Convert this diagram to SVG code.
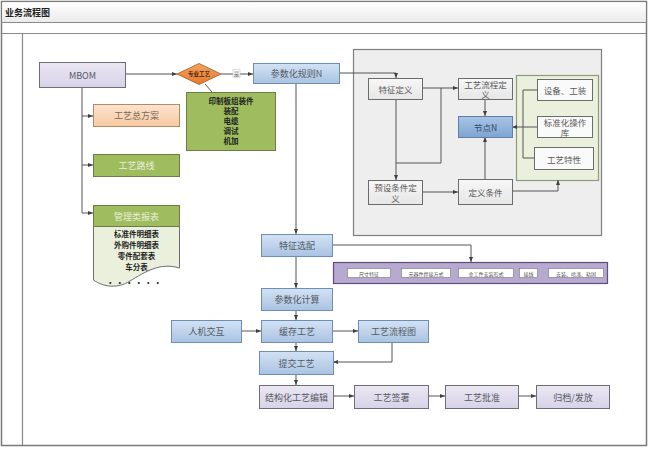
<svg xmlns="http://www.w3.org/2000/svg" width="650" height="450" viewBox="0 0 650 450">
<defs>
<linearGradient id="gBlue" x1="0" y1="0" x2="0" y2="1"><stop offset="0" stop-color="#d3e2f4"/><stop offset="1" stop-color="#a9c3e2"/></linearGradient>
<linearGradient id="gBlueD" x1="0" y1="0" x2="0" y2="1"><stop offset="0" stop-color="#a9c4e6"/><stop offset="1" stop-color="#7ea4d1"/></linearGradient>
<linearGradient id="gLav" x1="0" y1="0" x2="0" y2="1"><stop offset="0" stop-color="#ebe7f3"/><stop offset="1" stop-color="#d8d2e8"/></linearGradient>
<linearGradient id="gGrey" x1="0" y1="0" x2="0" y2="1"><stop offset="0" stop-color="#f7f7f7"/><stop offset="1" stop-color="#e6e6e6"/></linearGradient>
<linearGradient id="gTitle" x1="0" y1="0" x2="0" y2="1"><stop offset="0" stop-color="#ffffff"/><stop offset="1" stop-color="#eaeaea"/></linearGradient>
<linearGradient id="gPeach" x1="0" y1="0" x2="0" y2="1"><stop offset="0" stop-color="#fde3cd"/><stop offset="1" stop-color="#f8c9a2"/></linearGradient>
<linearGradient id="gOrange" x1="0" y1="0" x2="0" y2="1"><stop offset="0" stop-color="#f6a35c"/><stop offset="1" stop-color="#e9782a"/></linearGradient>
<marker id="arr" viewBox="0 0 10 10" refX="10" refY="5" markerWidth="5" markerHeight="5" orient="auto" markerUnits="userSpaceOnUse">
<path d="M0,1 L10,5 L0,9 z" fill="#404040"/>
</marker>
<style>
text{font-family:"Noto Sans CJK SC","Noto Sans",sans-serif;text-anchor:middle;dominant-baseline:central;}
.lbl{font-size:9px;fill:#555a63;}
.sm{font-size:8.5px;fill:#5a5a5a;}
.bold{font-size:7.5px;font-weight:bold;fill:#1e1e1e;}
.tiny{font-size:5px;fill:#555;}
.blue{fill:url(#gBlue);stroke:#6d8db5;stroke-width:1;}
.blueD{fill:url(#gBlueD);stroke:#5e7fa8;stroke-width:1;}
.lav{fill:url(#gLav);stroke:#6e6e7a;stroke-width:1;}
.grey{fill:url(#gGrey);stroke:#6b6b6b;stroke-width:1;}
.green{fill:#9fbc5f;stroke:#6b7d45;stroke-width:1;}
.peach{fill:url(#gPeach);stroke:#b08a6a;stroke-width:1;}
.conn path{fill:none;stroke:#555;stroke-width:1;}
.conn .a{marker-end:url(#arr);}
</style>
</defs>

<!-- frame -->
<g id="frame">
<rect x="1.5" y="1.5" width="645" height="444" fill="#ffffff" stroke="#7a7a7a" stroke-width="1.5"/>
<rect x="2.3" y="2.3" width="643.4" height="20" fill="url(#gTitle)"/>
<line x1="2" y1="22.5" x2="646" y2="22.5" stroke="#8a8a8a" stroke-width="1.2"/>
<line x1="2" y1="33.5" x2="646" y2="33.5" stroke="#8a8a8a" stroke-width="1.2"/>
<line x1="22.5" y1="33.5" x2="22.5" y2="445" stroke="#8a8a8a" stroke-width="1.2"/>
<text x="5" y="12.5" style="font-size:9px;font-weight:bold;fill:#222;text-anchor:start">业务流程图</text>
</g>

<!-- panels -->
<g id="panel-grey"><rect x="353.5" y="49.5" width="248" height="186" fill="#eeeeee" stroke="#7f7f7f" stroke-width="1.2"/></g>
<g id="panel-green"><rect x="516.5" y="75.5" width="82" height="105" fill="#eaf0dc" stroke="#8f9c78" stroke-width="1.2"/></g>

<!-- connectors -->
<g id="connectors" class="conn">
<path class="a" d="M126,74 H177"/>
<path class="a" d="M221,74 H253"/>
<path d="M205,84 L212,92"/>
<path d="M82,88 V213"/>
<path class="a" d="M82,116 H93"/>
<path class="a" d="M82,165 H93"/>
<path class="a" d="M82,213 H93"/>
<path class="a" d="M296,83 V234"/>
<path class="a" d="M339,73 H396 V78"/>
<path class="a" d="M422,88 H458"/>
<path class="a" d="M396,99 V180"/>
<path d="M396,163 H441 V88"/>
<path class="a" d="M485,99 V116"/>
<path class="a" d="M422,192 H458"/>
<path class="a" d="M485,179 V137"/>
<path class="a" d="M512,191 H558 V180"/>
<path d="M537,90 H523 V158 H534"/>
<path d="M537,127 H523"/>
<path class="a" d="M523,127 H512"/>
<path class="a" d="M332,245 H471 V262"/>
<path class="a" d="M296,256 V288"/>
<path class="a" d="M296,310 V320"/>
<path class="a" d="M241,331 H261"/>
<path class="a" d="M332,331 H358"/>
<path class="a" d="M296,342 V351"/>
<path class="a" d="M392,342 V362 H333"/>
<path class="a" d="M296,374 V385"/>
<path class="a" d="M333,396 H354"/>
<path class="a" d="M428,396 H445"/>
<path class="a" d="M518,396 H536"/>
<rect x="233" y="69.5" width="7" height="8" fill="#ffffff" stroke="#bbbbbb" stroke-width="0.5"/>
<text x="236.5" y="73.5" style="font-size:5.5px;fill:#666">是</text>
</g>

<!-- nodes -->
<g id="mbom"><rect class="lav" x="39.5" y="62.5" width="86" height="25"/><text class="lbl" x="82.5" y="75">MBOM</text></g>
<g id="decision"><polygon points="177,74 199,63.5 221,74 199,84.5" fill="url(#gOrange)" stroke="#9a5a2a" stroke-width="0.8"/><text x="199" y="74" style="font-size:5.5px;font-weight:bold;fill:#3a2a1a">专业工艺</text></g>
<g id="rule-n"><rect class="blue" x="253.5" y="63.5" width="86" height="20"/><text class="lbl" x="296.5" y="73.5">参数化规则N</text></g>
<g id="prof-list"><rect class="green" x="186.5" y="92.5" width="89" height="58"/>
<text class="bold" x="231" y="100.5">印制板组装件</text>
<text class="bold" x="231" y="110.5">装配</text>
<text class="bold" x="231" y="120.5">电缆</text>
<text class="bold" x="231" y="130.5">调试</text>
<text class="bold" x="231" y="140.5">机加</text></g>
<g id="overall"><rect class="peach" x="93.5" y="104.5" width="86" height="22"/><text class="lbl" x="136.5" y="115.5" style="fill:#7a6a5a">工艺总方案</text></g>
<g id="route"><rect class="green" x="93.5" y="154.5" width="86" height="22"/><text class="lbl" x="136.5" y="165.5" style="fill:#e8eedb">工艺路线</text></g>
<g id="reports">
<path d="M93.5,226.5 H179.5 V268 C160,262 145,272 130,281 C118,289 103,287 93.5,280 Z" fill="#eaf0dc" stroke="#6e6e6e" stroke-width="1"/>
<rect class="green" x="93.5" y="205.5" width="86" height="21"/>
<text class="lbl" x="136.5" y="216" style="fill:#e8eedb">管理类报表</text>
<text class="bold" x="136.5" y="233.5">标准件明细表</text>
<text class="bold" x="136.5" y="244.5">外购件明细表</text>
<text class="bold" x="136.5" y="255.5">零件配套表</text>
<text class="bold" x="136.5" y="266.5">车分表</text>
<text class="bold" x="135" y="282" style="letter-spacing:2px">••••••</text>
</g>

<g id="feat-def"><rect class="grey" x="368.5" y="78.5" width="54" height="21"/><text class="sm" x="395.5" y="89">特征定义</text></g>
<g id="flow-def"><rect class="grey" x="458.5" y="78.5" width="54" height="21"/><text class="sm" x="485.5" y="83.5">工艺流程定</text><text class="sm" x="485.5" y="94">义</text></g>
<g id="node-n"><rect class="blueD" x="458.5" y="116.5" width="54" height="21"/><text class="sm" x="485.5" y="127" style="fill:#2f4a6e">节点N</text></g>
<g id="preset-def"><rect class="grey" x="368.5" y="180.5" width="54" height="24"/><text class="sm" x="395.5" y="186.5">预设条件定</text><text class="sm" x="395.5" y="197.5">义</text></g>
<g id="cond-def"><rect class="grey" x="458.5" y="179.5" width="54" height="25"/><text class="sm" x="485.5" y="192">定义条件</text></g>
<g id="equip"><rect x="537.5" y="79.5" width="55" height="21" fill="#fafafa" stroke="#6b6b6b"/><text class="sm" x="565" y="90">设备、工装</text></g>
<g id="std-ops"><rect x="537.5" y="116.5" width="55" height="21" fill="#fafafa" stroke="#6b6b6b"/><text class="sm" x="565" y="121.5">标准化操作</text><text class="sm" x="565" y="132">库</text></g>
<g id="traits"><rect x="534.5" y="147.5" width="59" height="22" fill="#fafafa" stroke="#6b6b6b"/><text class="sm" x="564" y="158.5">工艺特性</text></g>

<g id="feat-sel"><rect class="blue" x="261.5" y="234.5" width="71" height="22"/><text class="lbl" x="297" y="245.5">特征选配</text></g>
<g id="options">
<rect x="333.5" y="262.5" width="274" height="21" fill="#b8a9d0" stroke="#5f4d80" stroke-width="1.2"/>
<rect x="347.5" y="268.5" width="43" height="9" fill="#ffffff" stroke="#777" stroke-width="0.6"/><text class="tiny" x="369" y="273">尺寸特征</text>
<rect x="401.5" y="268.5" width="49" height="9" fill="#ffffff" stroke="#777" stroke-width="0.6"/><text class="tiny" x="426" y="273">元器件焊接方式</text>
<rect x="458.5" y="268.5" width="55" height="9" fill="#ffffff" stroke="#777" stroke-width="0.6"/><text class="tiny" x="486" y="273">金工件安装形式</text>
<rect x="519.5" y="268.5" width="18" height="9" fill="#ffffff" stroke="#777" stroke-width="0.6"/><text class="tiny" x="528.5" y="273">接线</text>
<rect x="548.5" y="268.5" width="55" height="9" fill="#ffffff" stroke="#777" stroke-width="0.6"/><text class="tiny" x="576" y="273">安装、喷漆、粘固</text>
</g>
<g id="param-calc"><rect class="blue" x="261.5" y="288.5" width="71" height="22"/><text class="lbl" x="297" y="299.5">参数化计算</text></g>
<g id="hci"><rect class="blue" x="171.5" y="320.5" width="70" height="22"/><text class="lbl" x="206.5" y="331.5">人机交互</text></g>
<g id="cache"><rect class="blue" x="261.5" y="320.5" width="71" height="22"/><text class="lbl" x="297" y="331.5">缓存工艺</text></g>
<g id="flowchart"><rect class="blue" x="358.5" y="320.5" width="70" height="22"/><text class="lbl" x="393.5" y="331.5">工艺流程图</text></g>
<g id="submit"><rect class="blue" x="259.5" y="351.5" width="74" height="23"/><text class="lbl" x="296.5" y="363">提交工艺</text></g>
<g id="struct-edit"><rect class="lav" x="259.5" y="385.5" width="74" height="23"/><text class="lbl" x="296.5" y="397">结构化工艺编辑</text></g>
<g id="sign"><rect class="lav" x="354.5" y="385.5" width="74" height="23"/><text class="lbl" x="391.5" y="397">工艺签署</text></g>
<g id="approve"><rect class="lav" x="445.5" y="385.5" width="73" height="23"/><text class="lbl" x="482" y="397">工艺批准</text></g>
<g id="release"><rect class="lav" x="536.5" y="385.5" width="73" height="23"/><text class="lbl" x="573" y="397">归档/发放</text></g>
</svg>
